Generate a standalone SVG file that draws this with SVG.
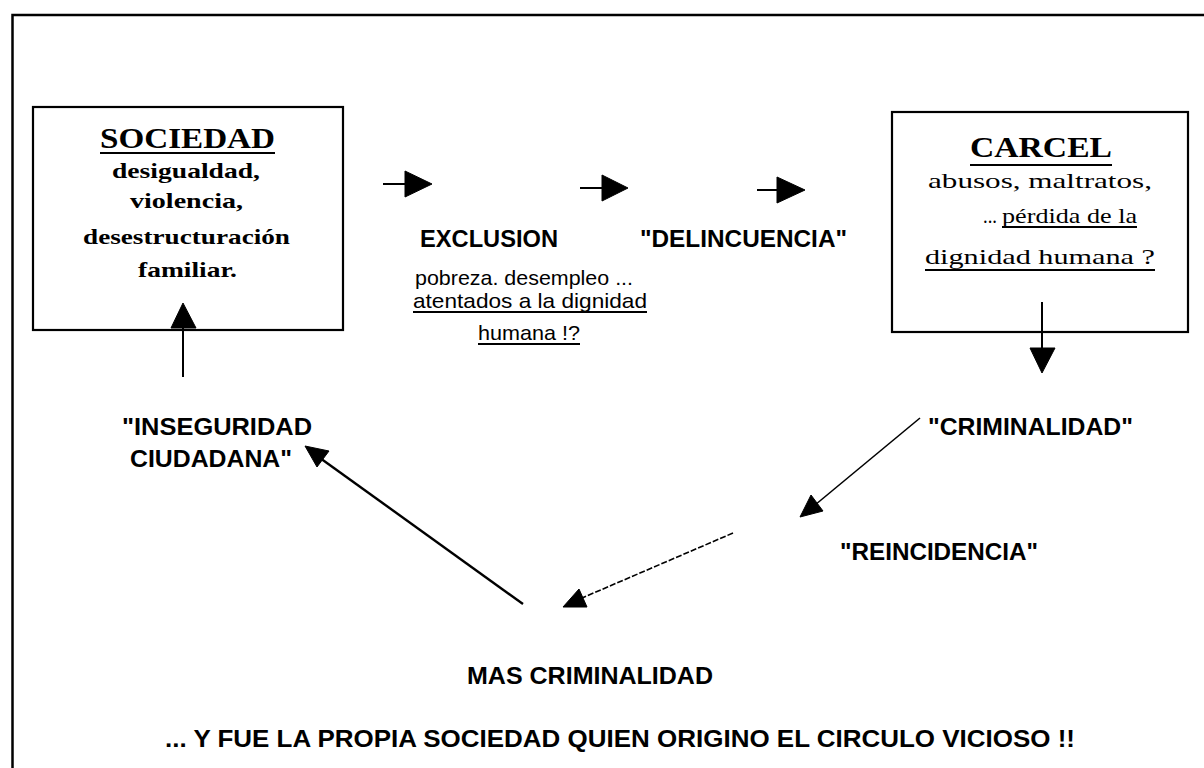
<svg xmlns="http://www.w3.org/2000/svg" width="1204" height="768" viewBox="0 0 1204 768">
<style>
.frame{fill:none;stroke:#000;stroke-width:2.5}
.box{fill:#fff;stroke:#000;stroke-width:2.2}
.ttl{font-family:"Liberation Serif","Times New Roman",serif;font-weight:bold;font-size:29px;fill:#000}
.sb{font-family:"Liberation Serif","Times New Roman",serif;font-weight:bold;font-size:21px;fill:#000}
.sr{font-family:"Liberation Serif","Times New Roman",serif;font-size:22px;fill:#000}
.lab{font-family:"Liberation Sans",Arial,sans-serif;font-weight:bold;font-size:23px;fill:#000}
.lw{font-family:"Liberation Sans",Arial,sans-serif;font-size:21px;fill:#000}
.ul{stroke:#000;stroke-width:1.8}
.c{fill:none;stroke:#000;stroke-width:2}
.cd{fill:none;stroke:#000;stroke-width:1.6;stroke-dasharray:6 2}
.ah{fill:#000;stroke:#000;stroke-width:1}
</style>
<rect width="1204" height="768" fill="#fff"/>
<path class="frame" d="M12.5 768 V15 H1204"/>

<g id="sociedad">
<rect class="box" x="33" y="107" width="310" height="223"/>
<text class="ttl" x="100" y="148" textLength="175" lengthAdjust="spacingAndGlyphs">SOCIEDAD</text>
<line class="ul" x1="100" y1="153" x2="275" y2="153" style="stroke-width:2.2"/>
<text class="sb" x="112" y="178" textLength="148" lengthAdjust="spacingAndGlyphs">desigualdad,</text>
<text class="sb" x="130" y="208" textLength="113" lengthAdjust="spacingAndGlyphs">violencia,</text>
<text class="sb" x="83" y="244" textLength="207" lengthAdjust="spacingAndGlyphs">desestructuración</text>
<text class="sb" x="138" y="277" textLength="99" lengthAdjust="spacingAndGlyphs">familiar.</text>
</g>

<g id="carcel">
<rect class="box" x="892" y="112" width="296" height="220"/>
<text class="ttl" x="970" y="157" textLength="142" lengthAdjust="spacingAndGlyphs">CARCEL</text>
<line class="ul" x1="970" y1="165" x2="1112" y2="165" style="stroke-width:2.2"/>
<text class="sr" x="928" y="188" textLength="224" lengthAdjust="spacingAndGlyphs">abusos, maltratos,</text>
<text class="sr" x="983" y="223" textLength="14" lengthAdjust="spacingAndGlyphs">...</text>
<text class="sr" x="1002" y="223" textLength="135" lengthAdjust="spacingAndGlyphs">pérdida de la</text>
<line class="ul" x1="1002" y1="227" x2="1137" y2="227"/>
<text class="sr" x="925" y="264" textLength="230" lengthAdjust="spacingAndGlyphs">dignidad humana ?</text>
<line class="ul" x1="925" y1="270" x2="1155" y2="270"/>
</g>

<g id="exclusion">
<text class="lab" x="420" y="247" textLength="138" lengthAdjust="spacingAndGlyphs">EXCLUSION</text>
<text class="lw" x="415" y="285" textLength="218" lengthAdjust="spacingAndGlyphs">pobreza. desempleo ...</text>
<text class="lw" x="413" y="308" textLength="234" lengthAdjust="spacingAndGlyphs">atentados a la dignidad</text>
<line class="ul" x1="413" y1="312" x2="647" y2="312"/>
<text class="lw" x="478" y="340" textLength="102" lengthAdjust="spacingAndGlyphs">humana !?</text>
<line class="ul" x1="478" y1="344" x2="580" y2="344"/>
</g>

<g id="delincuencia">
<text class="lab" x="640" y="247" textLength="207" lengthAdjust="spacingAndGlyphs">"DELINCUENCIA"</text>
</g>

<g id="criminalidad">
<text class="lab" x="928" y="435" textLength="205" lengthAdjust="spacingAndGlyphs">"CRIMINALIDAD"</text>
</g>

<g id="reincidencia">
<text class="lab" x="840" y="560" textLength="198" lengthAdjust="spacingAndGlyphs">"REINCIDENCIA"</text>
</g>

<g id="inseguridad">
<text class="lab" x="122" y="435" textLength="190" lengthAdjust="spacingAndGlyphs">"INSEGURIDAD</text>
<text class="lab" x="130" y="467" textLength="162" lengthAdjust="spacingAndGlyphs">CIUDADANA"</text>
</g>

<g id="mas-criminalidad">
<text class="lab" x="467" y="684" textLength="246" lengthAdjust="spacingAndGlyphs">MAS CRIMINALIDAD</text>
</g>

<g id="conclusion">
<text class="lab" x="165" y="747" textLength="910" lengthAdjust="spacingAndGlyphs">... Y FUE LA PROPIA SOCIEDAD QUIEN ORIGINO EL CIRCULO VICIOSO !!</text>
</g>

<g id="connectors">
<line class="c" x1="383" y1="184" x2="405" y2="184"/>
<polygon class="ah" points="405,171 432,184 405,197"/>
<line class="c" x1="580" y1="188" x2="602" y2="188"/>
<polygon class="ah" points="602,175 628,188 602,201"/>
<line class="c" x1="757" y1="190" x2="777" y2="190"/>
<polygon class="ah" points="777,177 805,190 777,203"/>

<line class="c" x1="1042" y1="302" x2="1042" y2="350"/>
<polygon class="ah" points="1030,348 1055,348 1042,373"/>

<line class="c" x1="183" y1="377" x2="183" y2="326"/>
<polygon class="ah" points="171,328 196,328 183,303"/>

<line class="c" x1="920" y1="418" x2="815" y2="505" style="stroke-width:1.6"/>
<polygon class="ah" points="800,517 823,511 811,495"/>

<line class="cd" x1="733" y1="533" x2="582" y2="598"/>
<polygon class="ah" points="563,607 587,607 579,589"/>

<line class="c" x1="523" y1="604" x2="320" y2="458" style="stroke-width:2.4"/>
<polygon class="ah" points="305,446 329,451 317,467"/>
</g>
</svg>
